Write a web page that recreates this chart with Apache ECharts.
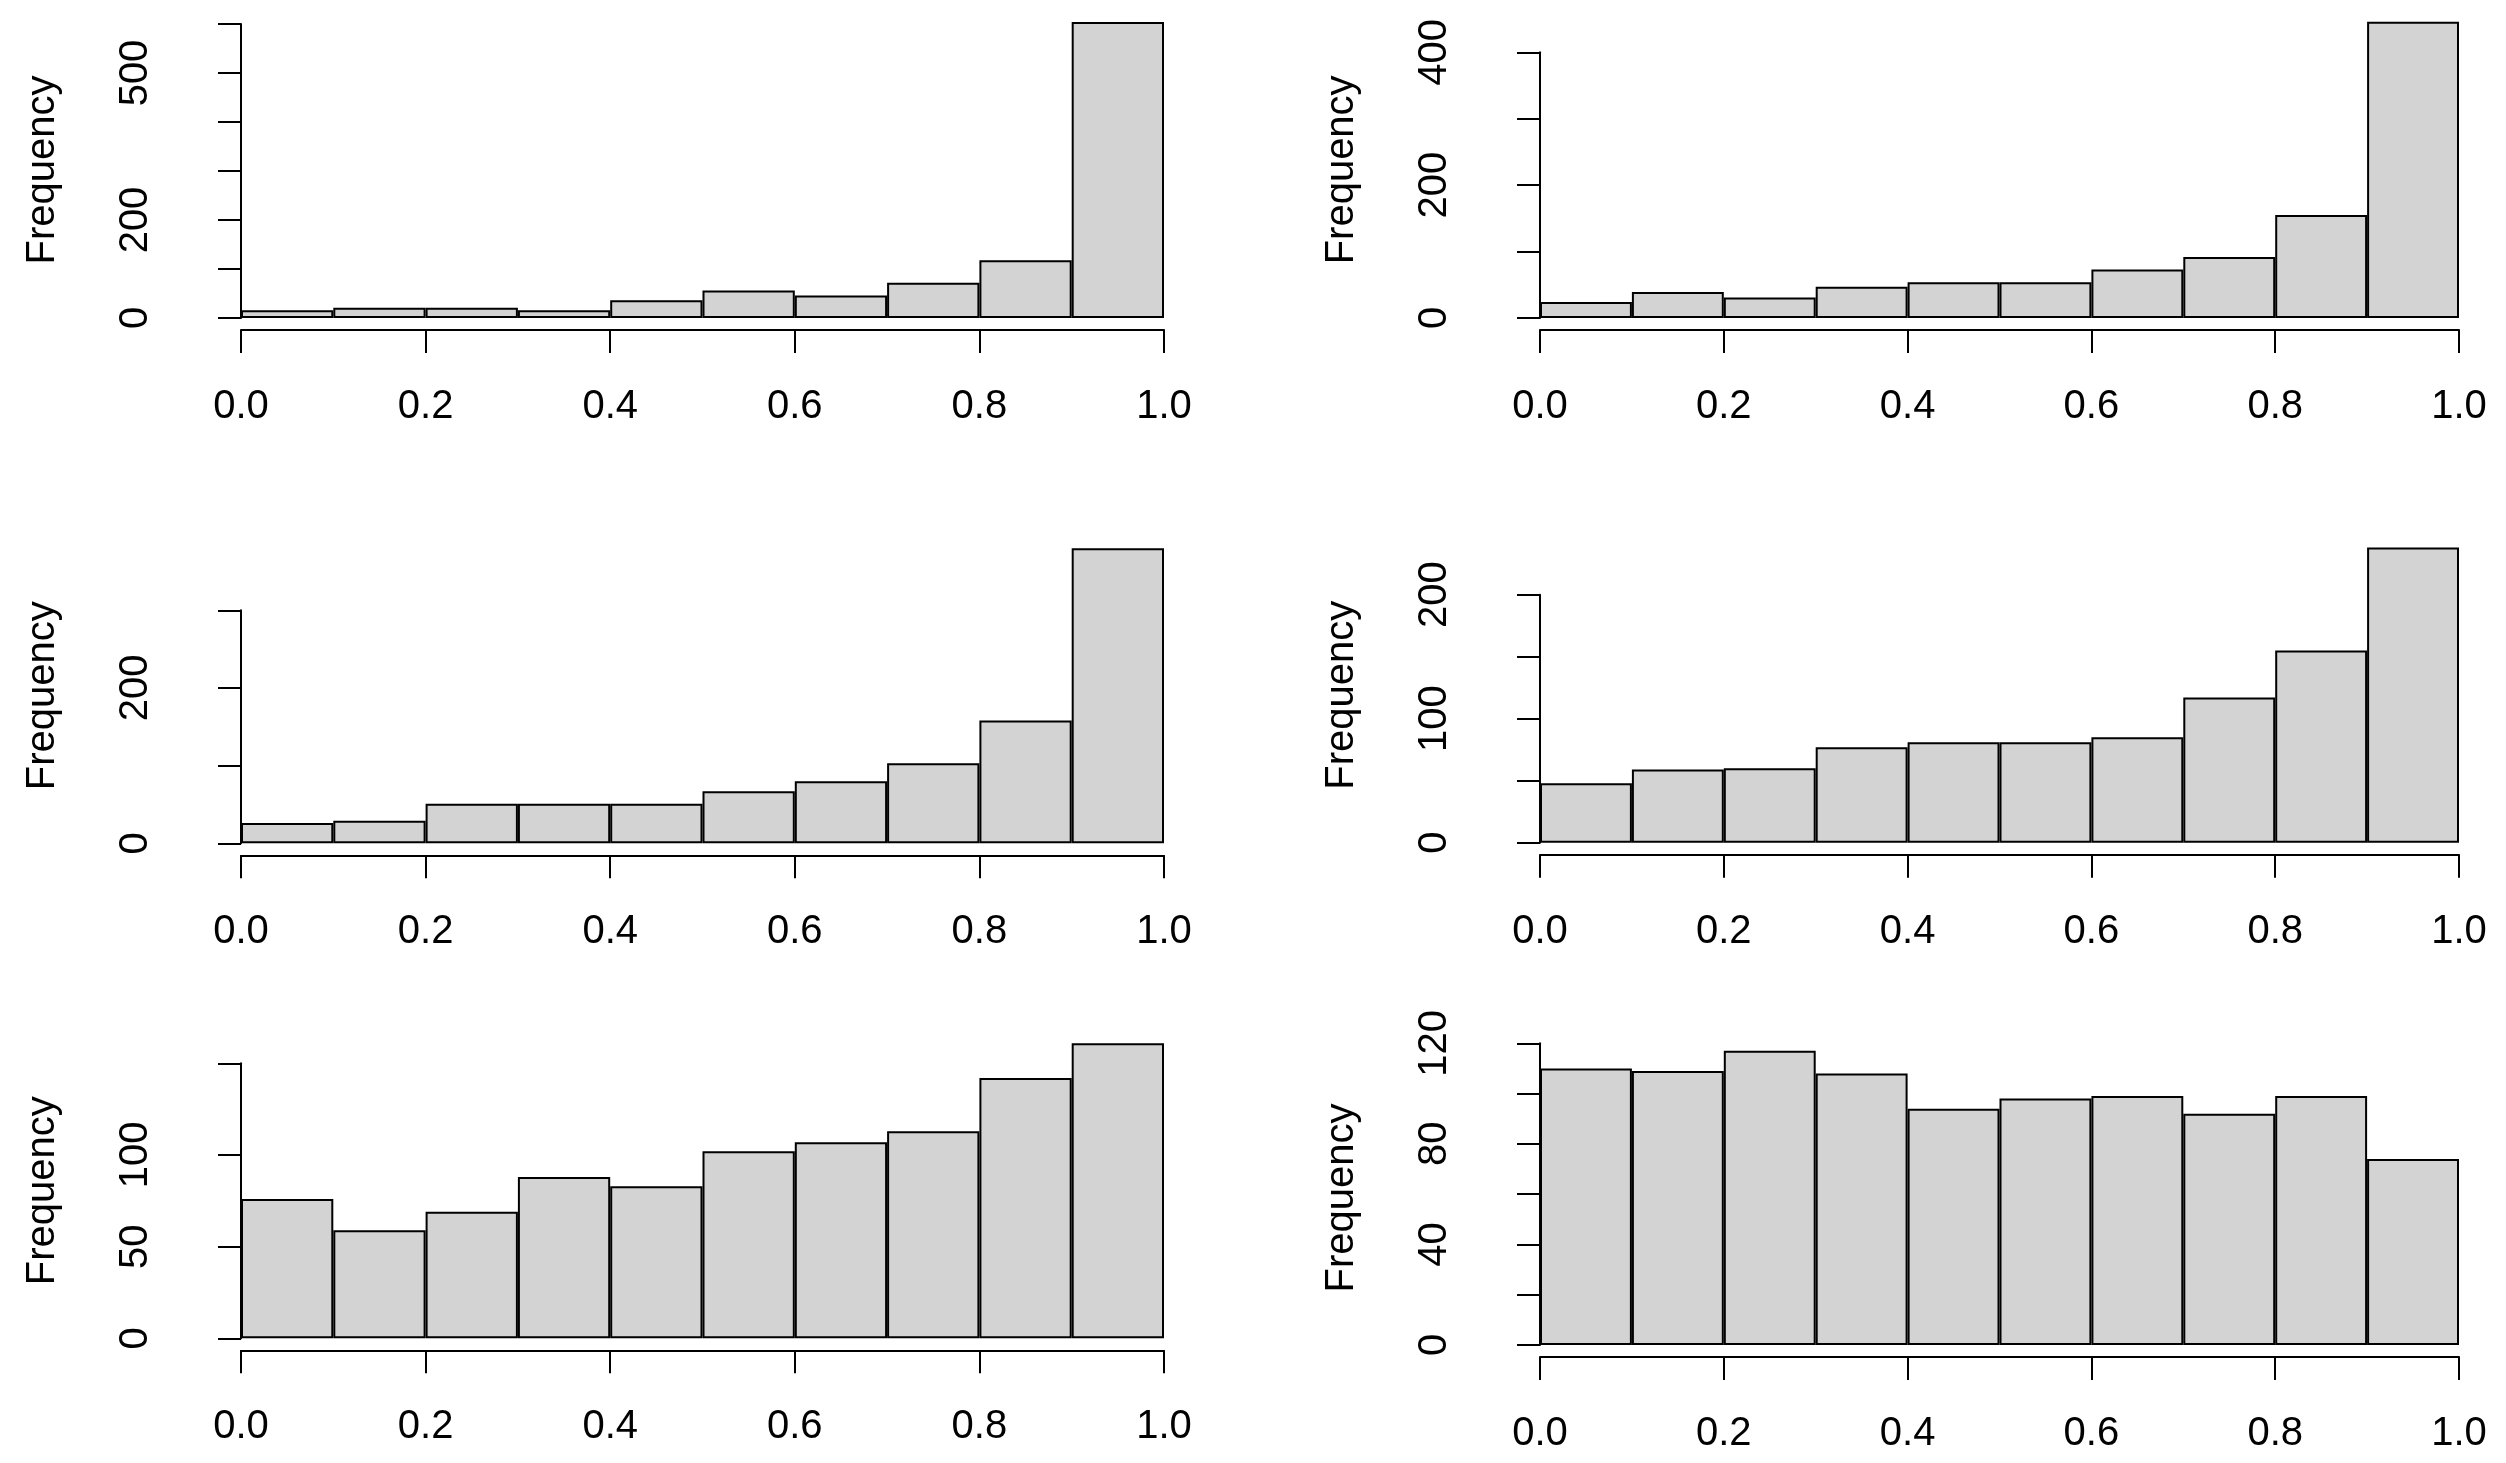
<!DOCTYPE html>
<html>
<head>
<meta charset="utf-8">
<script src="https://cdn.jsdelivr.net/npm/echarts@6/dist/echarts.min.js"></script>
<style>
    html, body { margin: 0; padding: 0; background: #fff; }
    #chart { width: 2506px; height: 1463px; }
</style>
</head>
<body>
<div id="chart"></div>
<script>
// === DATA ===
const bins = ['0.0-0.1', '0.1-0.2', '0.2-0.3', '0.3-0.4', '0.4-0.5',
              '0.5-0.6', '0.6-0.7', '0.7-0.8', '0.8-0.9', '0.9-1.0'];

const counts1 = [16, 21, 21, 16, 36, 56, 46, 72, 118, 604];
const counts2 = [24, 39, 31, 47, 54, 54, 73, 92, 155, 446];
const counts3 = [26, 29, 51, 51, 51, 67, 80, 103, 158, 380];
const counts4 = [48, 59, 60, 77, 81, 81, 85, 117, 155, 238];
const counts5 = [76, 59, 69, 88, 83, 102, 107, 113, 142, 161];
const counts6 = [110, 109, 117, 108, 94, 98, 99, 92, 99, 74];

// y axis: last tick, tick step and the tick labels R kept
const yMax = [600, 400, 300, 200, 150, 120];
const yStep = [100, 100, 100, 50, 50, 20];
const yLabels = [[0, 200, 500], [0, 200, 400], [0, 200], [0, 100, 200], [0, 50, 100], [0, 40, 80, 120]];

// x axis
const xMin = 0, xMax = 1, xStep = 0.2;

const allCounts = [counts1, counts2, counts3, counts4, counts5, counts6];

// === LAYOUT (px) ===
// left/width: bar span, y0: baseline, yTop: pixel of last y tick
const panels = [
    { left: 241, width: 923, y0: 318, yTop: 24 },
    { left: 1540, width: 919, y0: 318, yTop: 52.3 },
    { left: 241, width: 923, y0: 843.3, yTop: 610.3 },
    { left: 1540, width: 919, y0: 842.7, yTop: 594.7 },
    { left: 241, width: 923, y0: 1338.3, yTop: 1063.3 },
    { left: 1540, width: 919, y0: 1345, yTop: 1043.3 }
];

const FONT = 'Liberation Sans, Arial, sans-serif';
const FS = 40;
const LINE = { color: '#000', width: 2 };

const grid = [], xAxis = [], yAxis = [], series = [];

panels.forEach((p, i) => {
    const counts = allCounts[i];
    const scale = (p.y0 - p.yTop) / yMax[i];
    const plotTop = p.y0 - Math.max(...counts) * scale;

    // axis grid: spans 0 .. last tick
    grid.push({ left: p.left, width: p.width, top: p.yTop, height: p.y0 - p.yTop, outerBoundsMode: 'none' });
    // name grid: spans 0 .. tallest bar, used to centre "Frequency"
    grid.push({ left: p.left, width: p.width, top: plotTop, height: p.y0 - plotTop, outerBoundsMode: 'none' });

    const gA = 2 * i, gB = 2 * i + 1;

    xAxis.push({ type: 'category', gridIndex: gA, data: bins, show: false });
    xAxis.push({
        type: 'value', gridIndex: gA, min: xMin, max: xMax, interval: xStep,
        position: 'bottom', offset: 12,
        axisLine: { show: true, lineStyle: LINE },
        axisTick: { show: true, length: 23, lineStyle: LINE },
        axisLabel: {
            margin: 57, color: '#000', fontFamily: FONT, fontSize: FS,
            formatter: v => v.toFixed(1)
        },
        splitLine: { show: false }
    });
    xAxis.push({ type: 'value', gridIndex: gB, show: false });

    yAxis.push({
        type: 'value', gridIndex: gA, min: 0, max: yMax[i], interval: yStep[i],
        position: 'left', offset: 36,
        axisLine: { show: true, lineStyle: LINE },
        axisTick: { show: true, length: 23, lineStyle: LINE },
        axisLabel: {
            rotate: 90, margin: 49, color: '#000', fontFamily: FONT, fontSize: FS,
            formatter: v => (yLabels[i].includes(v) ? String(v) : '')
        },
        splitLine: { show: false }
    });
    yAxis.push({
        type: 'value', gridIndex: gB, min: 0, max: Math.max(...counts),
        name: 'Frequency', nameLocation: 'middle', nameGap: 178,
        nameTextStyle: { color: '#000', fontFamily: FONT, fontSize: FS },
        axisLine: { show: false }, axisTick: { show: false },
        axisLabel: { show: false }, splitLine: { show: false }
    });

    series.push({
        type: 'bar',
        xAxisIndex: 3 * i,
        yAxisIndex: 2 * i,
        data: counts,
        barWidth: '100%',
        barCategoryGap: '0%',
        clip: false,
        itemStyle: { color: '#d3d3d3', borderColor: '#000', borderWidth: 2 }
    });
});

const chart = echarts.init(document.getElementById('chart'));
chart.setOption({
    animation: false,
    backgroundColor: '#fff',
    grid, xAxis, yAxis, series
});
window.addEventListener('resize', () => chart.resize());
</script>
</body>
</html>
